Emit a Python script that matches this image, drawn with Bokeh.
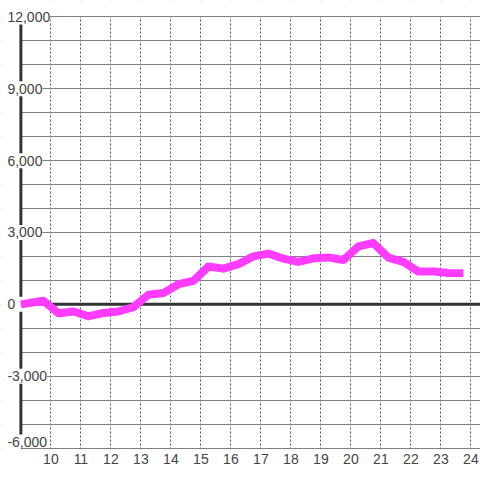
from bokeh.plotting import figure
from bokeh.models import FixedTicker, Range1d, LabelSet, ColumnDataSource, BoxAnnotation
from bokeh.core.properties import value
from bokeh.embed import file_html
from bokeh.resources import INLINE

# --- data ---
hours = [9.0, 9.75, 10.25, 10.75, 11.25, 11.75, 12.25, 12.75, 13.25, 13.75,
         14.25, 14.75, 15.25, 15.75, 16.25, 16.75, 17.25, 17.75, 18.25, 18.75,
         19.25, 19.75, 20.25, 20.75, 21.25, 21.75, 22.25, 22.75, 23.25, 23.75]
values = [0, 150, -370, -300, -500, -360, -300, -120, 400, 470,
          840, 980, 1580, 1490, 1680, 2000, 2120, 1910, 1770, 1920,
          1960, 1850, 2420, 2560, 1950, 1770, 1370, 1370, 1310, 1300]

x_ticks = [10, 11, 12, 13, 14, 15, 16, 17, 18, 19, 20, 21, 22, 23, 24]
y_grid_ticks = [-6000, -5000, -4000, -3000, -2000, -1000, 0, 1000, 2000, 3000,
                4000, 5000, 6000, 7000, 8000, 9000, 10000, 11000, 12000]
y_label_values = [12000, 9000, 6000, 3000, 0, -3000, -6000]
y_label_texts = ["12,000", "9,000", "6,000", "3,000", "0", "-3,000", "-6,000"]
y_label_shift = [0, 0, 0, 0, 0, 0, 6]   # bottom label nudged up (px)

FONT = "Liberation Sans"
TEXT_COLOR = "#444444"

WIDTH, HEIGHT = 480, 480
BORDER_BOTTOM = 31
Y_LO, Y_HI = -6062, 12687

p = figure(width=WIDTH, height=HEIGHT,
           x_range=Range1d(8.32, 24.32), y_range=Range1d(Y_LO, Y_HI),
           output_backend="svg", toolbar_location=None,
           y_axis_location=None,
           min_border_left=0, min_border_right=0,
           min_border_top=0, min_border_bottom=BORDER_BOTTOM)
p.outline_line_color = None
p.background_fill_color = "white"
p.border_fill_color = "white"

# x axis
ax = p.xaxis[0]
ax.ticker = FixedTicker(ticks=x_ticks)
ax.axis_line_color = None
ax.major_tick_line_color = None
ax.minor_tick_line_color = None
ax.major_tick_out = 0
ax.major_tick_in = 0
ax.major_label_standoff = 4
ax.major_label_text_font = FONT
ax.major_label_text_font_size = "14px"
ax.major_label_text_color = TEXT_COLOR

# grids
xg = p.xgrid[0]
yg = p.ygrid[0]
xg.ticker = FixedTicker(ticks=x_ticks)
xg.grid_line_color = "#555555"
xg.grid_line_dash = "2 2"
xg.grid_line_width = 1
yg.ticker = FixedTicker(ticks=y_grid_ticks)
yg.grid_line_color = "#808080"
yg.grid_line_width = 1

# white masks: above the top gridline and left of the y axis line
top_mask = BoxAnnotation(bottom=max(y_grid_ticks), fill_color="white", fill_alpha=1,
                         line_color=None, level="underlay")
left_mask = BoxAnnotation(right=hours[0], fill_color="white", fill_alpha=1,
                          line_color=None, level="underlay")

# left axis line, interrupted where the tick labels sit
px_per_unit = (HEIGHT - BORDER_BOTTOM) / (Y_HI - Y_LO)
gap = 7.5 / px_per_unit
centers = [v + d / px_per_unit for v, d in zip(y_label_values, y_label_shift)]
seg_y0 = [c - gap for c in centers[:-1]]
seg_y1 = [c + gap for c in centers[1:]]
p.segment(x0=[hours[0]] * len(seg_y0), y0=seg_y0,
          x1=[hours[0]] * len(seg_y1), y1=seg_y1,
          line_color="#333333", line_width=3)
# zero baseline
p.ray(x=[hours[0]], y=[0], length=0, angle=0, line_color="#333333", line_width=3)

# series
p.line(hours, values, line_color="#ff3cff", line_width=8,
       line_join="round", line_cap="butt")

# y labels with white background
src = ColumnDataSource(dict(x=[hours[0]] * len(y_label_values),
                            y=y_label_values, t=y_label_texts, dy=y_label_shift))
labels = LabelSet(x="x", y="y", text="t", source=src,
                  x_offset=-13.5, y_offset="dy", text_align="left", text_baseline="middle",
                  text_font=value(FONT), text_font_size=value("14px"),
                  text_color=value(TEXT_COLOR),
                  background_fill_color=value("white"), background_fill_alpha=value(1.0),
                  border_line_color=None, level="overlay")

others = [r for r in p.center if r is not xg and r is not yg]
p.center = [xg, top_mask, yg, left_mask] + others + [labels]

open("out.html", "w").write(file_html(p, INLINE))
